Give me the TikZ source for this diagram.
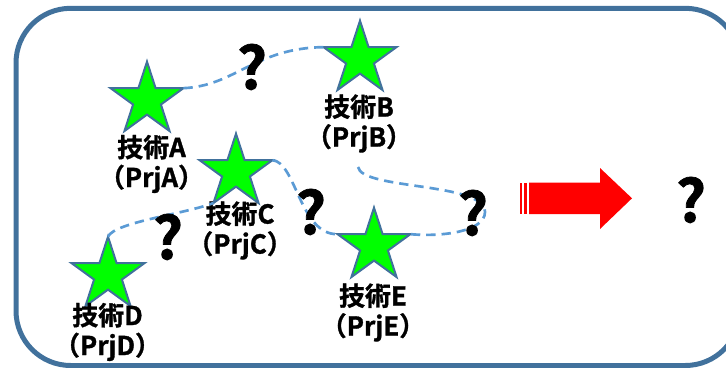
\documentclass[tikz,border=0pt]{standalone}
\usepackage{fontspec}
\newfontfamily\jp{Noto Sans CJK JP}[UprightFont={Noto Sans CJK JP Bold}, FakeBold=1.2, AutoFakeBold=1.2]
\usetikzlibrary{shapes.geometric}
\definecolor{frameblue}{HTML}{41719C}
\definecolor{dashblue}{HTML}{5B9BD5}
\definecolor{stargreen}{HTML}{00FF00}
\definecolor{arrowred}{HTML}{FF0000}
\tikzset{
  starnode/.style={star, star points=5, star point ratio=2.618, minimum size=57.5pt,
    inner sep=0pt, outer sep=0pt, fill=stargreen, draw=frameblue, line width=1.5pt},
  lbl/.style={font=\jp\bfseries\fontsize{19.5}{22.5}\selectfont, align=center, inner sep=0pt},
  qmark/.style={font=\jp\bfseries\fontsize{44}{46}\selectfont, inner sep=0pt},
  link/.style={draw=dashblue, line width=2pt, dash pattern=on 7pt off 4.5pt},
}
\begin{document}
\begin{tikzpicture}[x=0.75pt,y=-0.75pt]
\useasboundingbox (0,0) rectangle (726,368);
\begin{scope}
\clip (0,0) rectangle (726,368);
\draw[frameblue, line width=3.75pt, rounded corners=41pt] (16,8.3) rectangle (740,365.5);
\end{scope}
% stars
\node[starnode] (A) at (147,100) {};
\node[starnode] (B) at (360,59) {};
\node[starnode] (C) at (236,172) {};
\node[starnode] (D) at (108,275) {};
\node[starnode] (E) at (374,246) {};
% labels
\node[lbl] (la) at (151.5,164) {技術A\\（PrjA）};
\node[lbl] (lb) at (359,123.5) {技術B\\（PrjB）};
\node[lbl] (lc) at (240,230.5) {技術C\\（PrjC）};
\node[lbl] (ld) at (107.5,332) {技術D\\（PrjD）};
\node[lbl] (le) at (373,312.5) {技術E\\（PrjE）};
% connectors
\coordinate (bq) at (358,167);
\coordinate (rq) at (485,212);
\draw[link] (A.outer point 5) .. controls (235,86) and (255,48) .. (B.outer point 2);
\draw[link] (C.outer point 5) .. controls (296,162) and (300,235) .. (E.outer point 2);
\draw[link] (bq) .. controls (362,190) and (485,182) .. (rq) .. controls (485,232) and (440,237) .. (E.outer point 5);
\draw[link] (D.outer point 1) .. controls (115,222) and (185,214) .. (C.outer point 3);
% question marks
\node[qmark] (q1) at (252,67) {?};
\node[qmark] (q2) at (311,212) {?};
\node[qmark] (q3) at (473,213) {?};
\node[qmark] (q4) at (168,237) {?};
\node[qmark] (q5) at (691,200) {?};
% arrow
\fill[arrowred] (520,182.5) rectangle (522,214);
\fill[arrowred] (524,182.5) rectangle (527.3,214);
\fill[arrowred] (529,182.5) -- (600,182.5) -- (600,168) -- (632,198.3) -- (600,229) -- (600,214) -- (529,214) -- cycle;
\end{tikzpicture}
\end{document}
